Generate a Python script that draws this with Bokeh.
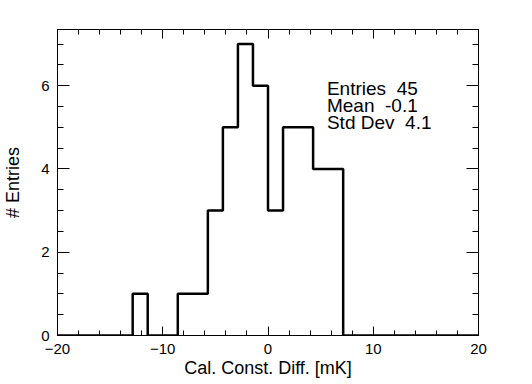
from bokeh.plotting import figure
from bokeh.models import SingleIntervalTicker, LinearAxis, Label, Range1d, CustomJSTickFormatter
from bokeh.embed import file_html
from bokeh.resources import INLINE

# histogram data: 28 bins from -20 to 20
x_lo, x_hi, n_bins = -20.0, 20.0, 28
counts = [0, 0, 0, 0, 0, 1, 0, 0, 1, 1, 3, 5, 7, 6, 3, 5, 5, 4, 4,
          0, 0, 0, 0, 0, 0, 0, 0, 0]
stats_lines = ["Entries \u00a045", "Mean \u00a0-0.1", "Std Dev \u00a04.1"]
x_title = "Cal. Const. Diff. [mK]"
y_title = "# Entries"

FONT = "Liberation Sans"

bw = (x_hi - x_lo) / n_bins
edges = [x_lo + i * bw for i in range(n_bins + 1)]
step_x = edges
step_y = counts + [counts[-1]]

p = figure(width=532, height=384, output_backend="svg", toolbar_location=None,
           x_range=Range1d(x_lo, x_hi), y_range=Range1d(0, max(counts) * 1.05),
           min_border_left=53, min_border_right=54, min_border_top=29, min_border_bottom=49,
           x_axis_location=None, y_axis_location=None)
p.grid.visible = False
p.outline_line_color = "black"
p.outline_line_width = 1
p.background_fill_color = "white"
p.border_fill_color = "white"

def style_axis(ax, major_len, minor_len, labels=True):
    ax.axis_line_color = "black"
    ax.axis_line_width = 1
    ax.major_tick_in = major_len
    ax.major_tick_out = 0
    ax.minor_tick_in = minor_len
    ax.minor_tick_out = 0
    ax.major_tick_line_color = "black"
    ax.minor_tick_line_color = "black"
    ax.major_label_text_font = FONT
    ax.major_label_text_font_size = "15px"
    ax.major_label_text_color = "black"
    ax.axis_label_text_font = FONT
    ax.axis_label_text_font_style = "normal"
    ax.axis_label_text_font_size = "18px"
    ax.axis_label_text_color = "black"
    if not labels:
        ax.formatter = CustomJSTickFormatter(code="return ''")
        ax.major_label_standoff = 0

xb = LinearAxis(ticker=SingleIntervalTicker(interval=10, num_minor_ticks=5))
style_axis(xb, 9, 5)
xb.major_label_overrides = {-20: "\u221220", -10: "\u221210"}
xb.major_label_standoff = 8
xb.axis_label = x_title
xb.axis_label_standoff = 1
p.add_layout(xb, "below")

xt = LinearAxis(ticker=SingleIntervalTicker(interval=10, num_minor_ticks=5))
style_axis(xt, 9, 5, labels=False)
p.add_layout(xt, "above")

yl = LinearAxis(ticker=SingleIntervalTicker(interval=2, num_minor_ticks=4))
style_axis(yl, 12, 6)
yl.major_label_standoff = 8
yl.axis_label = y_title
yl.axis_label_standoff = 15
p.add_layout(yl, "left")

yr = LinearAxis(ticker=SingleIntervalTicker(interval=2, num_minor_ticks=4))
style_axis(yr, 12, 6, labels=False)
p.add_layout(yr, "right")

p.step(x=step_x, y=step_y, mode="after", line_color="black", line_width=2.5)

for i, t in enumerate(stats_lines):
    p.add_layout(Label(x=5.6, y=5.925 - i * 0.41, text=t, text_font=FONT,
                       text_font_size="19px", text_color="black",
                       text_baseline="alphabetic", text_align="left"))

open("out.html", "w").write(file_html(p, INLINE))
